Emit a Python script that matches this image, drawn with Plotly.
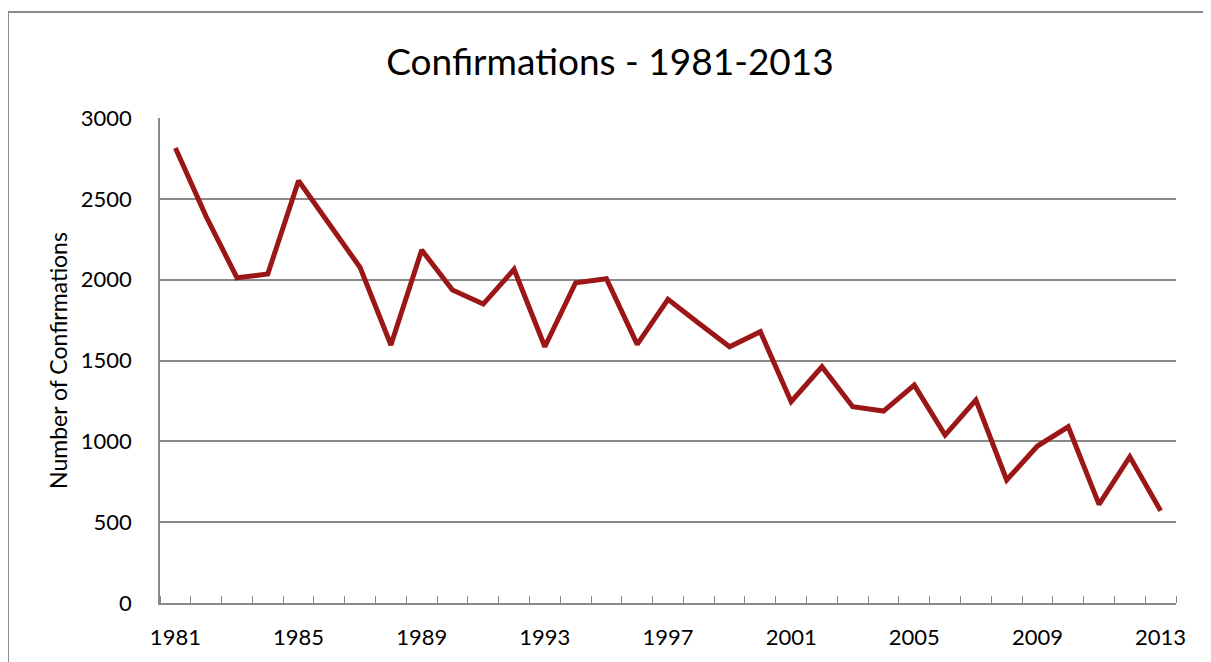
import plotly.graph_objects as go

years = list(range(1981, 2014))
confirmations = [2815, 2390, 2012, 2035, 2612, 2345, 2075, 1596, 2183, 1936,
                 1849, 2064, 1585, 1981, 2006, 1600, 1878, 1730, 1585, 1678,
                 1245, 1461, 1214, 1187, 1348, 1039, 1255, 761, 971, 1090,
                 610, 905, 571]
x_labels = [1981, 1985, 1989, 1993, 1997, 2001, 2005, 2009, 2013]
y_ticks = [0, 500, 1000, 1500, 2000, 2500, 3000]

FONT = "Lato"
GRID = "#898989"

# page has an 8px body margin; figure pixel p lands at page pixel p+8
OFF = 8
W, H = 1211 - OFF, 662 - OFF
L, T = 160 - OFF, 118 - OFF
R = W - (1176 - OFF)
B = H - (603 - OFF)
pw, ph = W - L - R, H - T - B

fig = go.Figure()
fig.add_trace(go.Scatter(
    x=years, y=confirmations, mode="lines",
    line=dict(color="#9B1616", width=5),
    hoverinfo="x+y", showlegend=False,
))

bx0 = (8 - 160) / pw
bx1 = (1211 + 30 - 160) / pw
by0 = -(662 + 30 - 603) / ph
by1 = (603 - 12) / ph
border = dict(color="#8c8c8c", width=2)

fig.update_layout(
    width=W, height=H,
    margin=dict(l=L, r=R, t=T, b=B),
    paper_bgcolor="white", plot_bgcolor="white",
    font=dict(family=FONT, color="black"),
    title=dict(text="Confirmations - 1981-2013", x=(610 - OFF) / W, xanchor="center",
               y=1 - (62 - OFF) / H, yanchor="middle",
               font=dict(family=FONT, size=37, color="black")),
    xaxis=dict(
        range=[1980.5, 2013.5], tickmode="array", tickvals=x_labels,
        ticktext=[str(v) for v in x_labels], ticks="", showgrid=False,
        zeroline=False, showline=True, linecolor=GRID, linewidth=1.5,
        tickfont=dict(family=FONT, size=22, color="black"),
        ticklabelstandoff=14, automargin=False,
        minor=dict(tick0=1980.5, dtick=1, ticks="inside", ticklen=7,
                   tickwidth=1.2, tickcolor=GRID, showgrid=False),
        fixedrange=True,
    ),
    yaxis=dict(
        range=[0, 3000], tickmode="array", tickvals=y_ticks,
        showgrid=True, gridcolor=GRID, gridwidth=1.5,
        zeroline=False, showline=True, linecolor=GRID, linewidth=1.5,
        ticks="", ticklen=0, ticklabelstandoff=22, automargin=False,
        tickfont=dict(family=FONT, size=22, color="black"),
        title=dict(text="Number of Confirmations", standoff=7,
                   font=dict(family=FONT, size=23, color="black")),
        fixedrange=True,
    ),
    shapes=[
        dict(type="line", xref="paper", yref="paper",
             x0=bx0, x1=bx0, y0=by0, y1=by1, line=border, layer="below"),
        dict(type="line", xref="paper", yref="paper",
             x0=bx0, x1=bx1, y0=by1, y1=by1, line=border, layer="below"),
    ],
)

fig.write_html(
    "out.html",
    config={"displayModeBar": False},
    post_script="document.documentElement.style.overflow='hidden';"
                "document.body.style.overflow='hidden';",
)
